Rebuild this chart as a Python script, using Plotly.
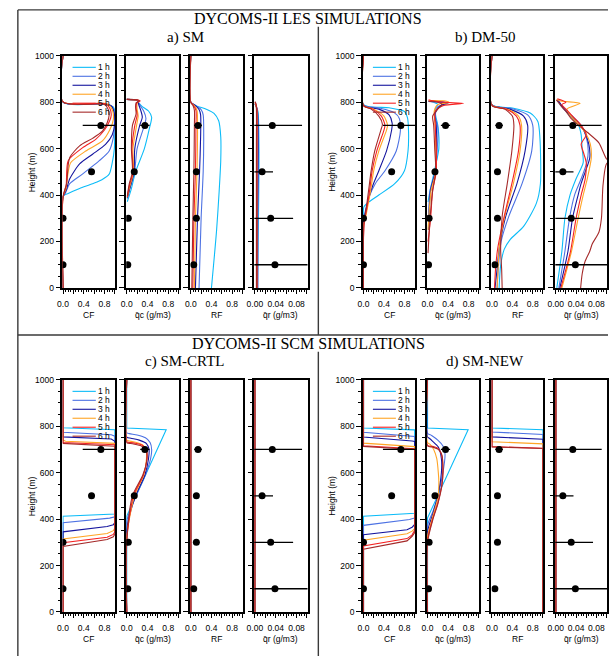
import plotly.graph_objects as go

W, H = 609, 661

HOURS = ["1 h", "2 h", "3 h", "4 h", "5 h", "6 h"]
HOUR_COLORS = ["#0cbcf8", "#4d72e3", "#15159e", "#ffa526", "#f52222", "#a52a2a"]
VAR_TITLES = ["CF", "q\u0304c (g/m3)", "RF", "q\u0304r (g/m3)"]

# observations (height in m, value, half-width of the error bar)
OBS_Z = [100, 300, 500, 700]
OBS_CF = [0.0, 0.0, 0.55, 0.73]
OBS_CF_ERR = [0.0, 0.0, 0.0, 0.35]
OBS_QC = [0.02, 0.03, 0.145, 0.35]
OBS_QC_ERR = [0.01, 0.01, 0.05, 0.09]
OBS_RF = [0.057, 0.108, 0.108, 0.14]
OBS_RF_ERR = [0.04, 0.02, 0.02, 0.075]
OBS_QR = [0.0386, 0.0304, 0.0139, 0.0335]
OBS_QR_ERR = [0.065, 0.043, 0.021, 0.057]

# profiles: one list of (value, height) pairs per hour, 1 h .. 6 h
# ---- a) SM (LES)
SM_CF = [
    [(0, 0), (0, 395), (0.1, 407), (0.32, 428), (0.57, 449), (0.75, 466), (0.89, 490), (0.95, 540), (0.99, 600), (1.0, 700), (1.0, 760), (0.97, 780), (0.75, 792), (0, 799), (0, 1000)],
    [(0, 0), (0, 392), (0.05, 410), (0.13, 449), (0.38, 491), (0.7, 548), (0.89, 590), (0.97, 647), (0.99, 700), (0.99, 755), (0.95, 780), (0.8, 793), (0, 800), (0, 1000)],
    [(0, 0), (0, 392), (0.06, 420), (0.13, 470), (0.32, 534), (0.57, 576), (0.82, 618), (0.95, 660), (1.0, 710), (0.99, 750), (0.94, 782), (0.8, 794), (0, 800), (0, 1000)],
    [(0, 0), (0, 392), (0.06, 430), (0.1, 500), (0.15, 540), (0.44, 590), (0.76, 633), (0.9, 680), (0.97, 725), (0.96, 760), (0.9, 785), (0.8, 795), (0, 801), (0, 1000)],
    [(0, 0), (0, 392), (0.06, 440), (0.1, 548), (0.38, 604), (0.63, 640), (0.8, 680), (0.9, 720), (0.93, 745), (0.9, 775), (0.82, 793), (0, 801), (0, 1000)],
    [(0, 0), (0, 392), (0.07, 450), (0.1, 530), (0.13, 562), (0.32, 612), (0.57, 644), (0.76, 675), (0.85, 710), (0.89, 746), (0.87, 770), (0.8, 790), (0, 801), (0, 1000)],
]
SM_QC = [
    [(0.01, 371), (0.08, 420), (0.17, 500), (0.34, 600), (0.44, 690), (0.48, 735), (0.42, 762), (0.3, 781), (0.24, 795), (0.2, 808), (0, 812)],
    [(0.01, 385), (0.05, 420), (0.15, 500), (0.2, 600), (0.34, 700), (0.37, 730), (0.33, 760), (0.26, 785), (0.22, 800), (0.2, 808), (0, 812)],
    [(0.01, 388), (0.05, 420), (0.14, 500), (0.155, 600), (0.25, 700), (0.3, 735), (0.27, 765), (0.23, 790), (0.22, 802), (0.2, 808), (0, 812)],
    [(0.01, 390), (0.05, 430), (0.13, 500), (0.12, 600), (0.19, 700), (0.22, 740), (0.2, 770), (0.2, 795), (0.23, 805), (0.2, 809), (0, 812)],
    [(0.01, 392), (0.05, 440), (0.12, 500), (0.1, 600), (0.155, 700), (0.2, 745), (0.18, 775), (0.19, 795), (0.26, 806), (0.2, 810), (0, 812)],
    [(0.01, 395), (0.05, 450), (0.11, 500), (0.09, 600), (0.11, 700), (0.18, 750), (0.17, 780), (0.18, 797), (0.24, 806), (0.2, 810), (0, 812)],
]
SM_RF = [
    [(0, 1000), (0, 800), (0.1, 785), (0.3, 770), (0.45, 752), (0.54, 720), (0.58, 650), (0.58, 550), (0.55, 420), (0.5, 250), (0.4, 0)],
    [(0, 1000), (0, 800), (0.08, 787), (0.2, 768), (0.24, 745), (0.25, 650), (0.24, 500), (0.2, 300), (0.16, 0)],
    [(0, 1000), (0, 800), (0.08, 787), (0.16, 768), (0.19, 745), (0.19, 650), (0.17, 500), (0.13, 300), (0.09, 0)],
    [(0, 1000), (0, 799), (0.06, 787), (0.12, 765), (0.13, 700), (0.12, 500), (0.09, 300), (0.07, 0)],
    [(0, 1000), (0, 799), (0.05, 787), (0.1, 765), (0.1, 700), (0.09, 500), (0.06, 300), (0.04, 0)],
    [(0, 1000), (0, 799), (0.04, 787), (0.07, 765), (0.07, 700), (0.06, 500), (0.04, 300), (0.02, 0)],
]
SM_QR = [
    [(0.005, 0), (0.007, 300), (0.008, 600), (0.006, 760), (0.002, 785), (0, 792)],
    [(0.006, 0), (0.006, 300), (0.007, 600), (0.005, 760), (0.002, 785), (0, 792)],
    [(0.005, 0), (0.005, 300), (0.006, 600), (0.005, 760), (0.002, 787), (0, 794)],
    [(0.004, 0), (0.004, 300), (0.004, 600), (0.004, 760), (0.002, 788), (0, 796)],
    [(0.004, 0), (0.004, 300), (0.004, 600), (0.004, 770), (0.002, 792), (0, 800)],
    [(0.003, 0), (0.003, 300), (0.003, 600), (0.003, 770), (0.002, 795), (0, 802)],
]

# ---- b) DM-50 (LES)
DM_CF = [
    [(0, 0), (0, 340), (0.01, 350), (0.11, 371), (0.3, 400), (0.61, 449), (0.8, 505), (0.87, 590), (0.88, 675), (0.86, 732), (0.8, 760), (0.5, 776), (0, 790), (0, 1000)],
    [(0, 0), (0, 290), (0.04, 336), (0.11, 392), (0.23, 449), (0.42, 505), (0.64, 590), (0.72, 675), (0.7, 730), (0.6, 755), (0.3, 775), (0, 788), (0, 1000)],
    [(0, 0), (0, 280), (0.05, 336), (0.11, 392), (0.18, 440), (0.3, 505), (0.45, 590), (0.55, 680), (0.56, 710), (0.5, 745), (0.3, 770), (0, 786), (0, 1000)],
    [(0, 0), (0, 270), (0.03, 293), (0.07, 336), (0.14, 420), (0.2, 505), (0.3, 590), (0.45, 680), (0.47, 700), (0.4, 740), (0.2, 770), (0, 786), (0, 1000)],
    [(0, 0), (0, 220), (0.02, 290), (0.06, 336), (0.12, 420), (0.17, 505), (0.26, 590), (0.4, 680), (0.42, 700), (0.35, 740), (0.18, 770), (0, 785), (0, 1000)],
    [(0, 0), (0, 210), (0.01, 280), (0.05, 336), (0.1, 420), (0.15, 505), (0.22, 590), (0.34, 680), (0.37, 705), (0.3, 740), (0.15, 770), (0, 785), (0, 1000)],
]
DM_QC = [
    [(0.01, 370), (0.05, 420), (0.13, 500), (0.22, 600), (0.2, 700), (0.16, 740), (0.15, 770), (0.2, 790), (0.12, 800), (0.02, 805)],
    [(0.02, 300), (0.05, 420), (0.15, 500), (0.19, 600), (0.2, 690), (0.15, 740), (0.2, 780), (0.4, 795), (0.25, 800), (0.02, 803)],
    [(0.02, 250), (0.06, 420), (0.15, 500), (0.17, 600), (0.17, 700), (0.14, 750), (0.25, 785), (0.38, 797), (0.2, 802), (0.02, 805)],
    [(0.01, 250), (0.07, 420), (0.16, 500), (0.16, 600), (0.15, 700), (0.13, 760), (0.2, 790), (0.42, 798), (0.35, 805), (0.02, 807)],
    [(0.01, 200), (0.06, 300), (0.1, 420), (0.17, 500), (0.17, 600), (0.15, 700), (0.15, 760), (0.3, 785), (0.7, 795), (0.3, 800), (0.05, 808), (0.02, 810)],
    [(0.01, 150), (0.05, 300), (0.1, 420), (0.16, 500), (0.14, 600), (0.12, 700), (0.1, 740), (0.2, 770), (0.28, 790), (0.2, 800), (0.02, 803)],
]
DM_RF = [
    [(0, 1000), (0, 788), (0.4, 775), (0.75, 753), (0.9, 717), (0.94, 647), (0.95, 449), (0.87, 364), (0.62, 265), (0.36, 209), (0.24, 166), (0.17, 96), (0.14, 0)],
    [(0, 1000), (0, 788), (0.4, 772), (0.7, 745), (0.8, 700), (0.78, 590), (0.59, 449), (0.33, 308), (0.18, 200), (0.13, 100), (0.1, 0)],
    [(0, 1000), (0, 788), (0.35, 770), (0.62, 740), (0.7, 700), (0.65, 590), (0.49, 449), (0.27, 308), (0.14, 166), (0.1, 80), (0.06, 0)],
    [(0, 1000), (0, 787), (0.3, 770), (0.52, 740), (0.58, 700), (0.55, 590), (0.42, 449), (0.25, 308), (0.14, 166), (0.12, 80), (0.1, 0)],
    [(0, 1000), (0, 786), (0.28, 770), (0.48, 740), (0.55, 700), (0.52, 590), (0.39, 449), (0.24, 308), (0.11, 166), (0.07, 80), (0.05, 0)],
    [(0, 1000), (0, 785), (0.25, 770), (0.4, 740), (0.43, 700), (0.39, 590), (0.3, 449), (0.2, 308), (0.17, 166), (0.19, 80), (0.2, 0)],
]
DM_QR = [
    [(0.002, 0), (0.012, 158), (0.018, 300), (0.028, 400), (0.04, 470), (0.054, 540), (0.052, 600), (0.05, 660), (0.045, 700), (0.033, 731), (0.02, 760), (0.01, 785), (0.003, 805)],
    [(0.006, 0), (0.018, 158), (0.027, 300), (0.037, 400), (0.05, 470), (0.061, 540), (0.064, 590), (0.06, 650), (0.05, 700), (0.035, 735), (0.02, 765), (0.01, 790), (0.003, 808)],
    [(0.008, 0), (0.024, 158), (0.033, 300), (0.044, 400), (0.05, 450), (0.058, 500), (0.067, 560), (0.065, 620), (0.055, 680), (0.045, 710), (0.03, 740), (0.015, 775), (0.004, 810)],
    [(0.012, 0), (0.031, 158), (0.044, 300), (0.054, 400), (0.062, 470), (0.07, 560), (0.068, 620), (0.058, 670), (0.045, 705), (0.03, 740), (0.022, 770), (0.048, 795), (0.01, 805), (0.002, 812)],
    [(0.01, 0), (0.029, 158), (0.04, 300), (0.05, 400), (0.058, 470), (0.06, 540), (0.055, 580), (0.05, 620), (0.06, 660), (0.05, 700), (0.035, 735), (0.02, 770), (0.012, 790), (0.02, 800), (0.003, 815)],
    [(0.049, 0), (0.052, 60), (0.058, 116), (0.067, 158), (0.072, 190), (0.085, 240), (0.09, 300), (0.093, 440), (0.099, 530), (0.105, 550), (0.1, 556), (0.085, 625), (0.065, 665), (0.045, 700), (0.03, 730), (0.02, 760), (0.01, 785), (0.005, 800), (0.001, 810)],
]

# ---- c) SM-CRTL (SCM)
CR_CF = [
    [(0, 0), (0, 412), (1, 422), (1, 785), (0, 793), (0, 1000)],
    [(0, 0), (0, 384), (0.9, 404), (1, 410), (1, 757), (0.93, 763), (0, 774), (0, 1000)],
    [(0, 0), (0, 345), (0.85, 368), (0.97, 376), (1, 385), (1, 735), (0.93, 745), (0, 754), (0, 1000)],
    [(0, 0), (0, 314), (0.85, 338), (0.97, 350), (1, 362), (1, 726), (0.05, 735), (0, 740), (0, 1000)],
    [(0, 0), (0, 298), (0.85, 322), (0.97, 334), (1, 345), (1, 720), (0, 730), (0, 1000)],
    [(0, 0), (0, 282), (0.85, 312), (0.97, 324), (1, 335), (1, 714), (0, 726), (0, 1000)],
]
CR_QC = [
    [(0, 0), (0, 413), (0.76, 785), (0, 792), (0, 1000)],
    [(0, 0), (0, 390), (0.18, 500), (0.36, 590), (0.46, 660), (0.48, 700), (0.45, 730), (0.36, 750), (0.2, 762), (0.05, 768), (0, 772), (0, 1000)],
    [(0, 0), (0, 355), (0.17, 500), (0.35, 590), (0.42, 660), (0.43, 700), (0.38, 725), (0.24, 740), (0.08, 748), (0, 753), (0, 1000)],
    [(0, 0), (0, 325), (0.15, 500), (0.33, 590), (0.38, 660), (0.37, 700), (0.3, 720), (0.15, 732), (0.03, 737), (0, 740), (0, 1000)],
    [(0, 0), (0, 312), (0.13, 500), (0.32, 590), (0.39, 660), (0.38, 700), (0.3, 718), (0.15, 727), (0.03, 731), (0, 733), (0, 1000)],
    [(0, 0), (0, 298), (0.11, 500), (0.31, 590), (0.39, 660), (0.37, 700), (0.28, 715), (0.13, 723), (0.03, 727), (0, 729), (0, 1000)],
]
CR_RF = [[(0, 0), (0, 1000)] for _ in range(6)]
CR_QR = [[(0, 0), (0, 1000)] for _ in range(6)]

# ---- d) SM-NEW (SCM)
SN_CF = [
    [(0, 0), (0, 412), (1, 425), (1, 784), (0, 792), (0, 1000)],
    [(0, 0), (0, 373), (0.9, 398), (1, 405), (1, 756), (0, 774), (0, 1000)],
    [(0, 0), (0, 333), (0.85, 354), (0.95, 365), (1, 377), (1, 734), (0.95, 736), (0, 753), (0, 1000)],
    [(0, 0), (0, 309), (0.85, 337), (0.95, 348), (1, 359), (1, 712), (0, 727), (0, 1000)],
    [(0, 0), (0, 284), (0.85, 316), (0.95, 332), (1, 352), (1, 703), (0, 716), (0, 1000)],
    [(0, 0), (0, 270), (0.85, 306), (0.95, 326), (1, 342), (1, 700), (0, 713), (0, 1000)],
]
SN_QC = [
    [(0, 0), (0, 405), (0.79, 785), (0, 792), (0, 1000)],
    [(0, 0), (0, 372), (0.1, 430), (0.2, 500), (0.3, 600), (0.34, 680), (0.3, 715), (0.2, 740), (0.08, 760), (0, 770), (0, 1000)],
    [(0, 0), (0, 345), (0.1, 420), (0.2, 500), (0.27, 600), (0.27, 660), (0.21, 710), (0.1, 735), (0.02, 750), (0, 753), (0, 1000)],
    [(0, 0), (0, 325), (0.1, 410), (0.2, 490), (0.22, 560), (0.21, 600), (0.18, 660), (0.12, 700), (0.05, 722), (0, 730), (0, 1000)],
    [(0, 0), (0, 310), (0.1, 400), (0.2, 470), (0.28, 550), (0.3, 610), (0.27, 680), (0.2, 705), (0.1, 713), (0, 718), (0, 1000)],
    [(0, 0), (0, 300), (0.1, 395), (0.2, 465), (0.28, 545), (0.3, 605), (0.28, 675), (0.21, 700), (0.1, 710), (0, 715), (0, 1000)],
]
SN_RF = [
    [(1, 0), (1, 785), (0, 792), (0, 1000)],
    [(1, 0), (1, 764), (0, 775), (0, 1000)],
    [(1, 0), (1, 744), (0, 754), (0, 1000)],
    [(1, 0), (1, 724), (0, 733), (0, 1000)],
    [(1, 0), (1, 705), (0, 712), (0, 1000)],
    [(1, 0), (1, 704), (0, 711), (0, 1000)],
]
SN_QR = [[(0, 0), (0, 1000)] for _ in range(6)]

PANEL_TITLES = ["a) SM", "b) DM-50", "c) SM-CRTL", "d) SM-NEW"]
PANEL_DATA = [
    [SM_CF, SM_QC, SM_RF, SM_QR],
    [DM_CF, DM_QC, DM_RF, DM_QR],
    [CR_CF, CR_QC, CR_RF, CR_QR],
    [SN_CF, SN_QC, SN_RF, SN_QR],
]
OBS = [(OBS_CF, OBS_CF_ERR), (OBS_QC, OBS_QC_ERR), (OBS_RF, OBS_RF_ERR), (OBS_QR, OBS_QR_ERR)]

# layout geometry in pixels
COLS = [
    [(55.3, 109.0), (120.0, 173.7), (185.0, 238.5), (250.0, 304.0)],
    [(360.3, 413.3), (425.3, 478.5), (490.7, 543.5), (555.5, 608.0)],
]
ROWS = [(51.5, 287.3), (380.5, 616.3)]
PANEL_POS = [(0, 0), (1, 0), (0, 1), (1, 1)]  # (column group, row)


def px_x(p):
    return p / W


def px_y(p):
    return 1 - p / H


def suffix(k):
    return "" if k == 1 else str(k)


fig = go.Figure()
layout = dict(
    width=W, height=H, margin=dict(l=0, r=0, t=0, b=0),
    paper_bgcolor="white", plot_bgcolor="white", showlegend=False,
    font=dict(family="Liberation Sans, Arial, sans-serif", size=8.5, color="black"),
)
shapes = []
annotations = []
SERIF = "Liberation Serif, Times New Roman, serif"

for p, (cg, row) in enumerate(PANEL_POS):
    top, bot = ROWS[row]
    les = row == 0
    for v in range(4):
        k = p * 4 + v + 1
        s = suffix(k)
        x0, x1 = COLS[cg][v]
        is_qr = v == 3
        xmax = 0.1 if is_qr else 1.0
        pad = xmax * 0.01
        xtv = [i * xmax / 5 for i in range(6)]
        xtt = ["0.00", "", "0.04", "", "0.08", ""] if is_qr else ["0.0", "", "0.4", "", "0.8", ""]
        layout[f"xaxis{s}"] = dict(
            domain=[px_x(x0), px_x(x1)], anchor=f"y{s}", range=[-pad, xmax + pad],
            showline=True, linewidth=1.6, linecolor="black", mirror=True,
            showgrid=False, zeroline=False, ticks="outside", ticklen=4, tickwidth=1,
            tickcolor="black", tickvals=xtv, ticktext=xtt, ticklabelstandoff=3,
            minor=dict(ticks="outside", ticklen=2.5, dtick=xmax / 20, tick0=0, tickcolor="black", tickwidth=1),
            fixedrange=True,
        )
        layout[f"yaxis{s}"] = dict(
            domain=[px_y(bot), px_y(top)], anchor=f"x{s}", range=[0, 1000],
            showline=True, linewidth=1.6, linecolor="black", mirror=True,
            showgrid=False, zeroline=False, ticks="outside", ticklen=5, tickwidth=1,
            tickcolor="black", tickvals=[0, 200, 400, 600, 800, 1000],
            showticklabels=(v == 0),
            minor=dict(ticks="outside", ticklen=3, dtick=50, tick0=0, tickcolor="black", tickwidth=1),
            fixedrange=True,
        )
        for i, curve in enumerate(PANEL_DATA[p][v]):
            xs = [c[0] for c in curve]
            ys = [c[1] for c in curve]
            if les:
                shape = "spline"
            elif v == 1 and i > 0:
                shape = "spline"
            else:
                shape = "linear"
            fig.add_trace(go.Scatter(
                x=xs, y=ys, mode="lines", xaxis=f"x{s}", yaxis=f"y{s}",
                line=dict(color=HOUR_COLORS[i], width=1.1, shape=shape, smoothing=0.7),
                hoverinfo="skip", showlegend=False,
            ))
        vals, errs = OBS[v]
        fig.add_trace(go.Scatter(
            x=vals, y=OBS_Z, mode="markers", xaxis=f"x{s}", yaxis=f"y{s}",
            marker=dict(color="black", size=7),
            error_x=dict(type="data", symmetric=True, array=errs, color="black", thickness=1.3, width=0),
            hoverinfo="skip", showlegend=False,
        ))
        # variable name under each column
        annotations.append(dict(
            text=VAR_TITLES[v], xref="paper", yref="paper",
            x=px_x((x0 + x1) / 2), y=px_y(bot + 27.5), showarrow=False,
            xanchor="center", yanchor="middle", font=dict(size=8.5),
        ))
    # height label
    x_first = COLS[cg][0][0]
    annotations.append(dict(
        text="Height (m)", xref="paper", yref="paper", x=px_x(x_first - 31.5),
        y=px_y((top + bot) / 2), textangle=-90, showarrow=False,
        xanchor="center", yanchor="middle", font=dict(size=8.5),
    ))
    # panel title
    cx = (COLS[cg][0][0] + COLS[cg][3][1]) / 2
    annotations.append(dict(
        text=PANEL_TITLES[p], xref="paper", yref="paper", x=px_x(cx + 0.5),
        y=px_y(top - 18.5), showarrow=False, xanchor="center", yanchor="middle",
        font=dict(family=SERIF, size=15),
    ))
    # hour key inside the first column
    s1 = suffix(p * 4 + 1)
    for i, lab in enumerate(HOURS):
        yy = 0.95 - i * 0.0386
        shapes.append(dict(
            type="line", xref=f"x{s1} domain", yref=f"y{s1} domain",
            x0=0.19, x1=0.63, y0=yy, y1=yy,
            line=dict(color=HOUR_COLORS[i], width=1.1),
        ))
        annotations.append(dict(
            text=lab, xref=f"x{s1} domain", yref=f"y{s1} domain", x=0.64, y=yy,
            xanchor="left", yanchor="middle", showarrow=False, font=dict(size=8.5),
        ))

# section headings
annotations.append(dict(text="DYCOMS-II LES SIMULATIONS", xref="paper", yref="paper",
                        x=px_x(305), y=px_y(13.5), showarrow=False, xanchor="center",
                        yanchor="middle", font=dict(family=SERIF, size=16)))
annotations.append(dict(text="DYCOMS-II SCM SIMULATIONS", xref="paper", yref="paper",
                        x=px_x(305), y=px_y(343.5), showarrow=False, xanchor="center",
                        yanchor="middle", font=dict(family=SERIF, size=16)))

# frame lines separating the sections
frame = dict(color="#3a3a3a", width=1.4)
for (xa, ya, xb, yb) in [(10, 5, 609, 5), (10, 5, 10, 661), (10, 335, 609, 335),
                         (315, 22, 315, 335), (315, 352, 315, 661)]:
    shapes.append(dict(type="line", xref="paper", yref="paper", x0=px_x(xa), y0=px_y(ya),
                       x1=px_x(xb), y1=px_y(yb), line=frame))

layout["shapes"] = shapes
layout["annotations"] = annotations
fig.update_layout(**layout)
fig.write_html("out.html")
